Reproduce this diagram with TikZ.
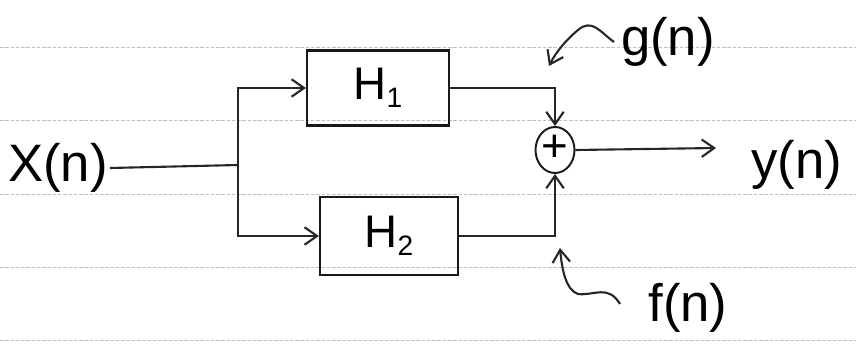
\documentclass[tikz,border=0pt]{standalone}
\usepackage{fontspec}
\setmainfont{Liberation Sans}
\usetikzlibrary{arrows.meta,shapes.geometric}
\newcommand{\hsub}[1]{\raisebox{-0.35ex}{\fontsize{16}{16}\selectfont #1}}
\tikzset{
  ruled/.style={gray!50, line width=0.5pt, dash pattern=on 2pt off 1pt},
  wire/.style={line width=1.2pt, draw=black!85},
  tip/.style={-{Straight Barb[length=2.5mm,width=3.5mm]}},
  blockbox/.style={draw=black!90, line width=1.3pt, minimum width=2.84cm, minimum height=1.5cm, font=\fontsize{26}{28}\selectfont},
  sumnode/.style={draw=black!90, ellipse, line width=1.1pt, minimum width=0.78cm, minimum height=0.92cm, inner sep=0pt, font=\fontsize{26}{26}\selectfont},
  sig/.style={font=\fontsize{30}{32}\selectfont, inner sep=1pt},
  siglab/.style={font=\fontsize{30}{32}\selectfont, inner sep=1pt}
}
\begin{document}
\begin{tikzpicture}[x=0.02cm,y=-0.02cm]
\useasboundingbox (0,0) rectangle (856,349);
% ruled paper
\foreach \yy in {47,120,194,267,340} \draw[ruled] (0,\yy) -- (856,\yy);
% nodes
\node[sig] (xin) at (58,168) {X(n)};
\node[blockbox] (h1) at (378,88) {H\hsub{1}};
\node[blockbox, minimum width=2.76cm, minimum height=1.56cm] (h2) at (389,236) {H\hsub{2}};
\node[sumnode] (sum) at (555,150) {\raisebox{0.1ex}{+}};
\node[sig] (yout) at (797,165) {y(n)};
\node[siglab] (g) at (668,42) {g(n)};
\node[siglab] (f) at (688,308) {f(n)};
\coordinate (split) at (238,165);
\coordinate (yend) at (716,148);
% connectors
\draw[wire] (xin.east) -- (split);
\draw[wire,tip] (split) |- (h1.west);
\draw[wire,tip] (split) |- (h2.west);
\draw[wire,tip] (h1.east) -| (sum.north);
\draw[wire,tip] (h2.east) -| (sum.south);
\draw[wire,tip] (sum.east) -- (yend);
% curly pointer arrows
\coordinate (gs) at (614,42);
\coordinate (gt) at (549,66);
\draw[wire,tip] (gs) .. controls (600,32) and (592,18) .. (578,30) .. controls (566,40) and (556,52) .. (gt);
\coordinate (fs) at (620,304);
\coordinate (ft) at (560,248);
\draw[wire,tip] (fs) .. controls (608,284) and (594,296) .. (578,294) .. controls (566,290) and (562,270) .. (ft);
\end{tikzpicture}
\end{document}
